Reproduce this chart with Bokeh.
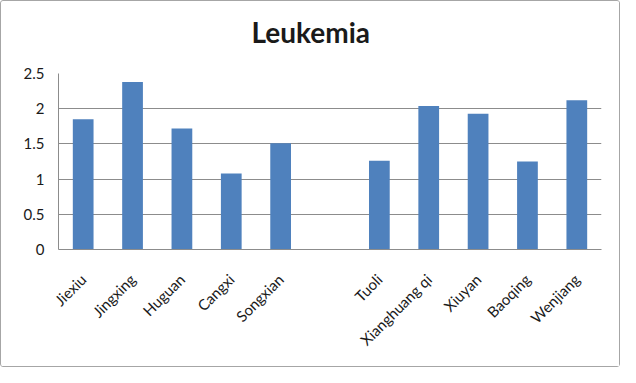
from bokeh.plotting import figure
from bokeh.models import FactorRange, Range1d, ColumnDataSource, FixedTicker, Title
from bokeh.embed import file_html
from bokeh.resources import INLINE
import math

# ---- data ----
title_text = "Leukemia"
categories = ["Jiexiu", "Jingxing", "Huguan", "Cangxi", "Songxian", " ",
              "Tuoli", "Xianghuang qi", "Xiuyan", "Baoqing", "Wenjiang"]
bar_categories = ["Jiexiu", "Jingxing", "Huguan", "Cangxi", "Songxian",
                  "Tuoli", "Xianghuang qi", "Xiuyan", "Baoqing", "Wenjiang"]
bar_values = [1.85, 2.38, 1.72, 1.08, 1.51, 1.26, 2.04, 1.93, 1.25, 2.12]
y_ticks = [0, 0.5, 1, 1.5, 2, 2.5]
y_tick_labels = ["0", "0.5", "1", "1.5", "2", "2.5"]

BAR = "#4F81BD"
GRID = "#8c8c8c"
TEXT = "#1a1a1a"

W, H = 620, 367
LEFT, RIGHT, TOP, BOTTOM = 57, 20, 72, 119

p = figure(width=W, height=H, x_range=FactorRange(factors=categories),
           y_range=Range1d(0, 2.5), output_backend="svg", toolbar_location=None,
           min_border_left=LEFT, min_border_right=RIGHT, min_border_top=TOP,
           min_border_bottom=BOTTOM)
p.styles = {"border": "1px solid #a6a6a6", "border-radius": "3px"}

src = ColumnDataSource(dict(cat=bar_categories, val=bar_values))
p.vbar(x="cat", top="val", width=0.42, source=src, fill_color=BAR, line_color=None)

# spacer between the frame and the main title
p.add_layout(Title(text=" ", text_font_size="10px", standoff=12), "above")

p.title.text = title_text
p.title.align = "left"
p.title.offset = 193
p.title.vertical_align = "bottom"
p.title.standoff = 0
p.title.text_font = "Lato"
p.title.text_font_style = "bold"
p.title.text_font_size = "28px"
p.title.text_color = TEXT

p.outline_line_color = None
p.xgrid.grid_line_color = None
p.ygrid.grid_line_color = GRID
p.ygrid.grid_line_width = 1
p.yaxis.ticker = FixedTicker(ticks=y_ticks)
p.yaxis.major_label_overrides = {t: l for t, l in zip(y_ticks, y_tick_labels)}

for ax in (p.xaxis[0], p.yaxis[0]):
    ax.axis_line_color = GRID
    ax.major_tick_line_color = None
    ax.minor_tick_line_color = None
    ax.major_label_text_font = "Lato"
    ax.major_label_text_font_size = "15px"
    ax.major_label_text_color = TEXT

p.yaxis.major_label_standoff = 8
p.xaxis.major_label_orientation = math.pi / 4
p.xaxis.major_label_standoff = 21

open("out.html", "w").write(file_html(p, INLINE))
